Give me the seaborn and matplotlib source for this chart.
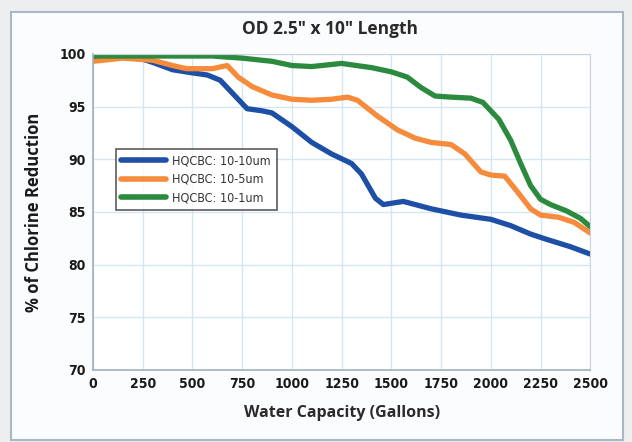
import numpy as np
import pandas as pd
import matplotlib
matplotlib.use("Agg")
import matplotlib.pyplot as plt
import seaborn as sns
from matplotlib.patches import Rectangle

# values
blue_gal = [0, 150, 250, 300, 400, 500, 575, 640, 700, 775, 850, 900, 1000, 1100,
            1200, 1300, 1350, 1420, 1460, 1560, 1700, 1850, 2000, 2100, 2200, 2280,
            2400, 2500]
blue_val = [99.6, 99.7, 99.5, 99.2, 98.5, 98.2, 98.0, 97.5, 96.3, 94.8, 94.6, 94.4,
            93.1, 91.6, 90.5, 89.6, 88.6, 86.3, 85.7, 86.0, 85.3, 84.7, 84.3, 83.7,
            82.9, 82.4, 81.7, 81.0]

orange_gal = [0, 150, 300, 400, 470, 600, 675, 730, 800, 900, 1000, 1100, 1200, 1280,
              1330, 1430, 1530, 1620, 1700, 1800, 1870, 1950, 2000, 2070, 2130, 2200,
              2250, 2340, 2420, 2500]
orange_val = [99.3, 99.6, 99.4, 98.9, 98.6, 98.6, 98.9, 97.8, 96.9, 96.1, 95.7, 95.6,
              95.7, 95.9, 95.6, 94.1, 92.8, 92.0, 91.6, 91.4, 90.5, 88.8, 88.5, 88.4,
              87.0, 85.3, 84.7, 84.5, 84.0, 83.0]

green_gal = [0, 300, 600, 750, 900, 1000, 1100, 1250, 1400, 1500, 1580, 1650, 1720,
             1800, 1900, 1960, 2040, 2100, 2150, 2200, 2250, 2300, 2380, 2450, 2500]
green_val = [99.8, 99.8, 99.8, 99.6, 99.3, 98.9, 98.8, 99.1, 98.7, 98.3, 97.8, 96.8,
             96.0, 95.9, 95.8, 95.4, 93.8, 91.8, 89.6, 87.5, 86.2, 85.7, 85.1, 84.4,
             83.6]

labels = ["HQCBC: 10-10um", "HQCBC: 10-5um", "HQCBC: 10-1um"]
colors = ["#1d4fa6", "#f58b3b", "#2b8a3e"]
x_ticks = list(range(0, 2501, 250))
y_ticks = list(range(70, 101, 5))

df = pd.concat([
    pd.DataFrame({"gal": blue_gal, "val": blue_val, "series": labels[0]}),
    pd.DataFrame({"gal": orange_gal, "val": orange_val, "series": labels[1]}),
    pd.DataFrame({"gal": green_gal, "val": green_val, "series": labels[2]}),
])

sns.set_style("white")
fig = plt.figure(figsize=(6.32, 4.42), dpi=100)
fig.patch.set_facecolor("#eceef0")

# outer card (behind the axes)
card = Rectangle((0.018, 0.005), 0.968, 0.968, transform=fig.transFigure,
                 facecolor="#fbfcfd", edgecolor="#a9b8c6", linewidth=1.5, zorder=-5)
fig.patches.append(card)

ax = fig.add_axes([0.147, 0.163, 0.787, 0.715])
ax.set_zorder(2)
ax.set_facecolor("white")

sns.lineplot(data=df, x="gal", y="val", hue="series", palette=colors,
             linewidth=3.8, ax=ax, sort=True, estimator=None)

ax.set_xlim(0, 2500)
ax.set_ylim(70, 100)
ax.set_xticks(x_ticks)
ax.set_yticks(y_ticks)
ax.grid(True, color="#d3e7f3", linewidth=1.0)
ax.set_axisbelow(True)
for s in ["top", "right"]:
    ax.spines[s].set_color("#c9d3db")
for s in ["left", "bottom"]:
    ax.spines[s].set_color("#9fb0bf")
    ax.spines[s].set_linewidth(1.2)
ax.tick_params(axis="y", length=3, color="#9fb0bf", pad=2)
ax.tick_params(axis="x", length=0, pad=5)
for t in ax.get_xticklabels() + ax.get_yticklabels():
    t.set_fontfamily("DejaVu Sans")
    t.set_fontstretch("condensed")
    t.set_fontweight("bold")
    t.set_fontsize(10)
    t.set_color("#1a1a1a")

ax.set_xlabel("Water Capacity (Gallons)", fontsize=11.5, fontweight="bold",
              fontfamily="Open Sans", color="#2a2a2a", labelpad=10)
ax.set_ylabel("% of Chlorine Reduction", fontsize=12, fontweight="bold",
              fontfamily="Open Sans", color="#1a1a1a", labelpad=12)
fig.text(0.522, 0.935, 'OD 2.5" x 10" Length', ha="center", va="center",
         fontsize=12.5, fontweight="bold", fontfamily="Open Sans", color="#2a2a2a")

leg = ax.legend(loc="upper left", bbox_to_anchor=(0.033, 0.72), frameon=True,
                fancybox=False,
                prop={"family": "DejaVu Sans", "stretch": "condensed", "size": 9},
                handlelength=3.6, borderpad=0.45, labelspacing=0.45, handletextpad=0.5)
leg.get_frame().set_edgecolor("#333333")
leg.get_frame().set_linewidth(1.2)
for line in leg.get_lines():
    line.set_linewidth(4)
for t in leg.get_texts():
    t.set_color("#333333")

fig.savefig("out.png", dpi=100, facecolor=fig.get_facecolor())
